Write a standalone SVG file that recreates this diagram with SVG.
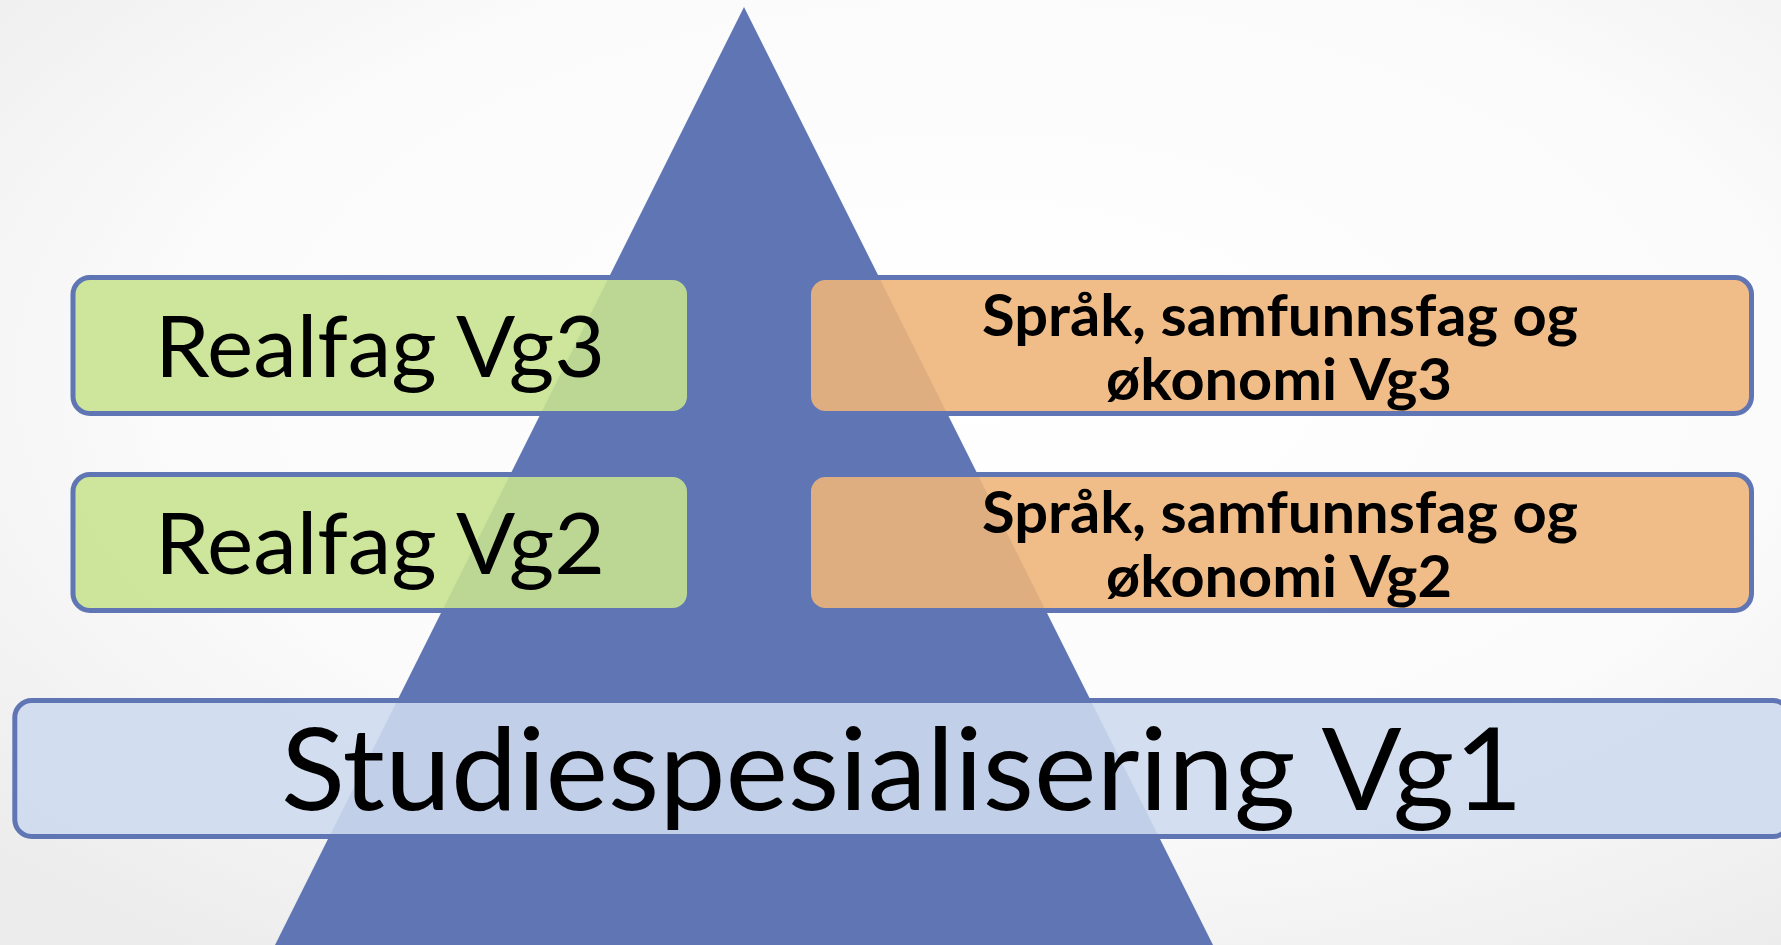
<svg xmlns="http://www.w3.org/2000/svg" width="1781" height="945" viewBox="0 0 1781 945">
<defs>
<radialGradient id="bg" cx="0.55" cy="0.4" r="0.75">
<stop offset="0" stop-color="#ffffff"/>
<stop offset="0.6" stop-color="#fbfbfb"/>
<stop offset="1" stop-color="#ececec"/>
</radialGradient>
</defs>
<style>
.box{stroke:#6076b4;stroke-width:5;fill-opacity:0.89}
.green{fill:#c7e38f}
.orange{fill:#eeb479}
.blue{fill:#cedbee}
.reg{font-family:Lato,Carlito,"Liberation Sans",sans-serif;font-weight:400;fill:#000}
.bold{font-family:Lato,Carlito,"Liberation Sans",sans-serif;font-weight:700;fill:#000;font-size:58px}
</style>
<rect x="0" y="0" width="1781" height="945" fill="url(#bg)"/>
<g id="pyramid">
<polygon points="744,7 275,945 1213,945" fill="#6076b4"/>
</g>
<g id="realfag-vg3">
<rect class="box green" x="73" y="277.5" width="616.5" height="136" rx="17"/>
<text class="reg" x="155" y="377" font-size="85" textLength="450" lengthAdjust="spacingAndGlyphs">Realfag Vg3</text>
</g>
<g id="realfag-vg2">
<rect class="box green" x="73" y="474.5" width="616.5" height="136" rx="17"/>
<text class="reg" x="155" y="573.5" font-size="85" textLength="450" lengthAdjust="spacingAndGlyphs">Realfag Vg2</text>
</g>
<g id="sprak-vg3">
<rect class="box orange" x="808.5" y="277.5" width="943" height="136" rx="17"/>
<text class="bold" x="982" y="336" textLength="596" lengthAdjust="spacingAndGlyphs">Språk, samfunnsfag og</text>
<text class="bold" x="1106" y="400" textLength="346" lengthAdjust="spacingAndGlyphs">økonomi Vg3</text>
</g>
<g id="sprak-vg2">
<rect class="box orange" x="808.5" y="474.5" width="943" height="136" rx="17"/>
<text class="bold" x="982" y="533" textLength="596" lengthAdjust="spacingAndGlyphs">Språk, samfunnsfag og</text>
<text class="bold" x="1106" y="597" textLength="346" lengthAdjust="spacingAndGlyphs">økonomi Vg2</text>
</g>
<g id="studiespesialisering-vg1">
<rect class="box blue" x="14.8" y="700.5" width="1775" height="136" rx="17"/>
<text class="reg" x="281" y="810" font-size="114" textLength="1242" lengthAdjust="spacingAndGlyphs">Studiespesialisering Vg1</text>
</g>
<g id="connectors"/>
</svg>
